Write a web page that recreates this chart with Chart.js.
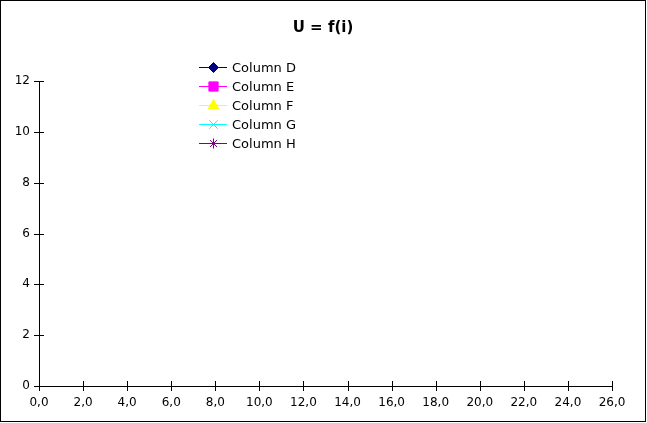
<!DOCTYPE html>
<html>
<head>
<meta charset="utf-8">
<script src="https://cdn.jsdelivr.net/npm/chart.js@4/dist/chart.umd.min.js"></script>
<style>
html,body{margin:0;padding:0;background:#fff;}
#wrap{width:647px;height:423px;position:relative;}
</style>
</head>
<body>
<div id="wrap"><canvas id="c" width="647" height="423"></canvas></div>
<script>
// Data (no plotted values are visible in the reference)
const titleText = 'U = f(i)';
const seriesNames = ['Column D', 'Column E', 'Column F', 'Column G', 'Column H'];
const xValues = [];
const columnD = [];
const columnE = [];
const columnF = [];
const columnG = [];
const columnH = [];
const xMin = 0, xMax = 26, xStep = 2;
const yMin = 0, yMax = 12, yStep = 2;

const seriesColors = ['#000080', '#ff00ff', '#ffff00', '#00ffff', '#800080'];
const seriesMarkers = ['rectRot', 'rect', 'triangle', 'crossRot', 'star'];
const markerRadius = [5, 6.5, 6, 6, 5];
const seriesData = [columnD, columnE, columnF, columnG, columnH];

const FONT = 'DejaVu Sans';

const datasets = seriesNames.map((name, i) => ({
  label: name,
  data: seriesData[i].map((v, k) => ({x: xValues[k], y: v})),
  borderColor: seriesColors[i],
  backgroundColor: seriesColors[i],
  pointStyle: seriesMarkers[i],
  pointRadius: markerRadius[i],
  borderWidth: 1,
  showLine: true
}));

const crossTicks = {
  id: 'crossTicks',
  afterDraw(chart) {
    const ctx = chart.ctx;
    const xs = chart.scales.x, ys = chart.scales.y;
    ctx.save();
    ctx.strokeStyle = '#000';
    ctx.lineWidth = 1;
    ctx.beginPath();
    xs.ticks.forEach(t => {
      const px = Math.round(xs.getPixelForValue(t.value)) + 0.5;
      ctx.moveTo(px, ys.bottom - 5);
      ctx.lineTo(px, ys.bottom + 5);
    });
    ys.ticks.forEach(t => {
      const py = Math.round(ys.getPixelForValue(t.value)) + 0.5;
      ctx.moveTo(xs.left - 5, py);
      ctx.lineTo(xs.left + 5, py);
    });
    ctx.stroke();
    ctx.restore();
  }
};

const innerLegend = {
  id: 'innerLegend',
  afterDraw(chart) {
    const ctx = chart.ctx;
    const x0 = 199, x1 = 227, tx = 232, y0 = 67, dy = 19;
    ctx.save();
    chart.data.datasets.forEach((ds, i) => {
      const y = y0 + i * dy + 0.5;
      ctx.strokeStyle = ds.borderColor;
      ctx.fillStyle = ds.backgroundColor;
      ctx.lineWidth = 1;
      ctx.beginPath();
      ctx.moveTo(x0, y);
      ctx.lineTo(x1, y);
      ctx.stroke();
      Chart.helpers.drawPoint(ctx, {
        pointStyle: ds.pointStyle,
        radius: ds.pointRadius,
        borderWidth: (ds.pointStyle === 'crossRot' || ds.pointStyle === 'star') ? 2 : 1,
        rotation: 0
      }, (x0 + x1) / 2 + 0.5, y);
      ctx.fillStyle = '#000';
      ctx.font = '13px "' + FONT + '"';
      ctx.textBaseline = 'middle';
      ctx.textAlign = 'left';
      ctx.fillText(ds.label, tx, y + 1);
    });
    ctx.restore();
  }
};

const frameAndTitle = {
  id: 'frameAndTitle',
  beforeDraw(chart) {
    const ctx = chart.ctx;
    ctx.save();
    ctx.fillStyle = '#fff';
    ctx.fillRect(0, 0, chart.width, chart.height);
    ctx.restore();
  },
  afterDraw(chart) {
    const ctx = chart.ctx;
    ctx.save();
    ctx.strokeStyle = '#000';
    ctx.lineWidth = 1;
    ctx.strokeRect(0.5, 0.5, 645, 421);
    ctx.fillStyle = '#000';
    ctx.font = 'bold 15px "' + FONT + '"';
    ctx.textAlign = 'center';
    ctx.textBaseline = 'middle';
    ctx.fillText(titleText, 323, 28);
    ctx.restore();
  }
};

new Chart(document.getElementById('c'), {
  type: 'line',
  data: { datasets },
  plugins: [frameAndTitle, crossTicks, innerLegend],
  options: {
    responsive: false,
    animation: false,
    layout: { padding: { left: 0, right: 35, top: 81, bottom: 0 } },
    plugins: {
      legend: { display: false },
      tooltip: { enabled: false },
      title: { display: false }
    },
    scales: {
      x: {
        type: 'linear',
        min: xMin, max: xMax,
        grid: { display: false, drawTicks: false },
        border: { display: true, color: '#000', width: 1 },
        ticks: {
          stepSize: xStep,
          color: '#000',
          padding: 10,
          maxRotation: 0,
          autoSkip: false,
          font: { family: FONT, size: 12 },
          callback: v => v.toFixed(1).replace('.', ',')
        },
        afterFit: s => { s.height = 37; }
      },
      y: {
        type: 'linear',
        min: yMin, max: yMax,
        grid: { display: false, drawTicks: false },
        border: { display: true, color: '#000', width: 1 },
        ticks: {
          stepSize: yStep,
          color: '#000',
          padding: 9,
          font: { family: FONT, size: 12 }
        },
        afterFit: s => { s.width = 39; }
      }
    }
  }
});
</script>
</body>
</html>
